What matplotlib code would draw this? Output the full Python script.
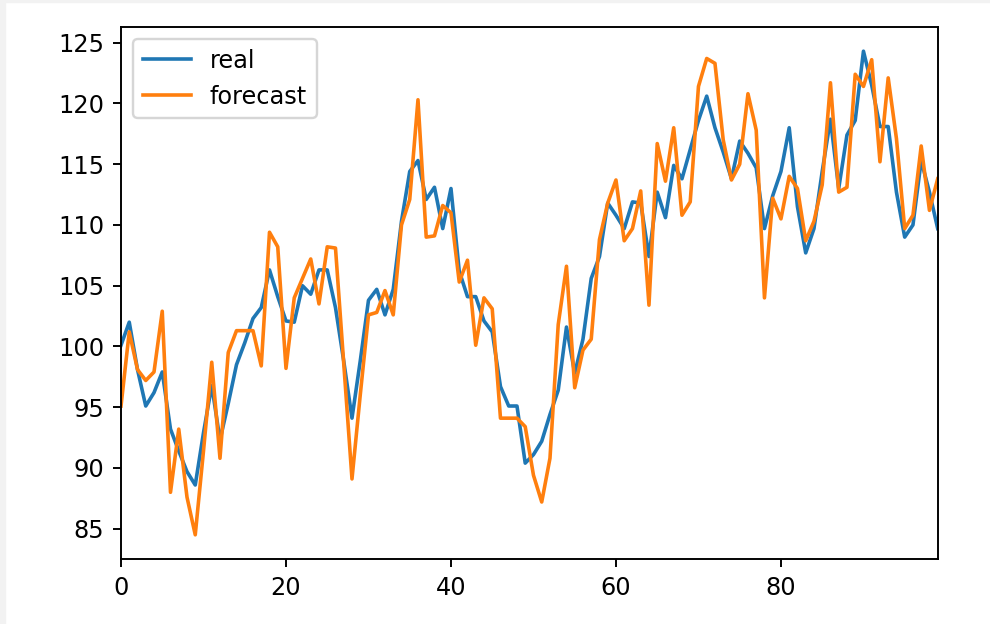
import matplotlib
matplotlib.use("Agg")
import matplotlib.pyplot as plt
from matplotlib.patches import Rectangle
import numpy as np

real = [100.1, 102.0, 98.1, 95.1, 96.2, 97.9, 93.2, 91.4, 89.7, 88.6,
        92.9, 96.8, 92.3, 95.3, 98.5, 100.3, 102.3, 103.2, 106.3, 104.1,
        102.1, 102.0, 105.0, 104.3, 106.3, 106.3, 103.2, 98.8, 94.1, 98.8,
        103.8, 104.7, 102.6, 104.7, 110.3, 114.4, 115.3, 112.1, 113.1, 109.7,
        113.0, 106.2, 104.1, 104.1, 102.1, 101.2, 96.7, 95.1, 95.1, 90.4,
        91.1, 92.2, 94.4, 96.4, 101.6, 97.8, 100.6, 105.6, 107.4, 111.8,
        110.8, 109.7, 111.9, 111.8, 107.4, 112.7, 110.6, 114.9, 113.8, 116.2,
        118.6, 120.6, 118.0, 116.0, 113.8, 116.9, 115.9, 114.7, 109.7, 112.4,
        114.4, 118.0, 111.5, 107.7, 109.7, 114.4, 118.7, 113.0, 117.4, 118.6,
        124.3, 121.5, 118.1, 118.1, 112.7, 109.0, 110.0, 115.3, 112.7, 109.7]

forecast = [95.1, 101.2, 98.1, 97.2, 97.9, 102.9, 88.0, 93.2, 87.6, 84.5,
            91.4, 98.7, 90.8, 99.5, 101.3, 101.3, 101.3, 98.4, 109.4, 108.2,
            98.2, 104.0, 105.6, 107.2, 103.5, 108.2, 108.1, 98.6, 89.1, 96.0,
            102.6, 102.8, 104.6, 102.6, 110.0, 112.1, 120.3, 109.0, 109.1, 111.6,
            111.0, 105.3, 107.1, 100.1, 104.0, 103.1, 94.1, 94.1, 94.1, 93.4,
            89.4, 87.2, 90.8, 101.8, 106.6, 96.6, 99.7, 100.6, 108.8, 111.8,
            113.7, 108.7, 109.7, 112.8, 103.4, 116.7, 113.6, 118.0, 110.8, 111.9,
            121.4, 123.7, 123.3, 117.0, 113.7, 115.0, 120.8, 117.8, 104.0, 112.2,
            110.5, 114.0, 113.0, 108.7, 110.3, 113.3, 121.7, 112.7, 113.1, 122.4,
            121.4, 123.6, 115.2, 122.1, 117.1, 109.7, 110.8, 116.5, 111.2, 113.8]

x = np.arange(len(real))

DPI = 172.8
fig = plt.figure(figsize=(990 / DPI, 624 / DPI), dpi=DPI)
ax = fig.add_axes([121 / 990, 1 - 559 / 624, (937.7 - 121) / 990, (559 - 27) / 624])

ax.plot(x, real, label="real")
ax.plot(x, forecast, label="forecast")
ax.set_xlim(0, len(real) - 1)
ax.legend(loc="upper left")

# light grey frame of the notebook cell
fig.patches.append(Rectangle((0, 0), 5 / 990, 1, transform=fig.transFigure,
                             color="#f2f2f2", zorder=0))
fig.patches.append(Rectangle((0, 1 - 2 / 624), 1, 2 / 624, transform=fig.transFigure,
                             color="#f2f2f2", zorder=0))

fig.savefig("out.png", dpi=DPI)
